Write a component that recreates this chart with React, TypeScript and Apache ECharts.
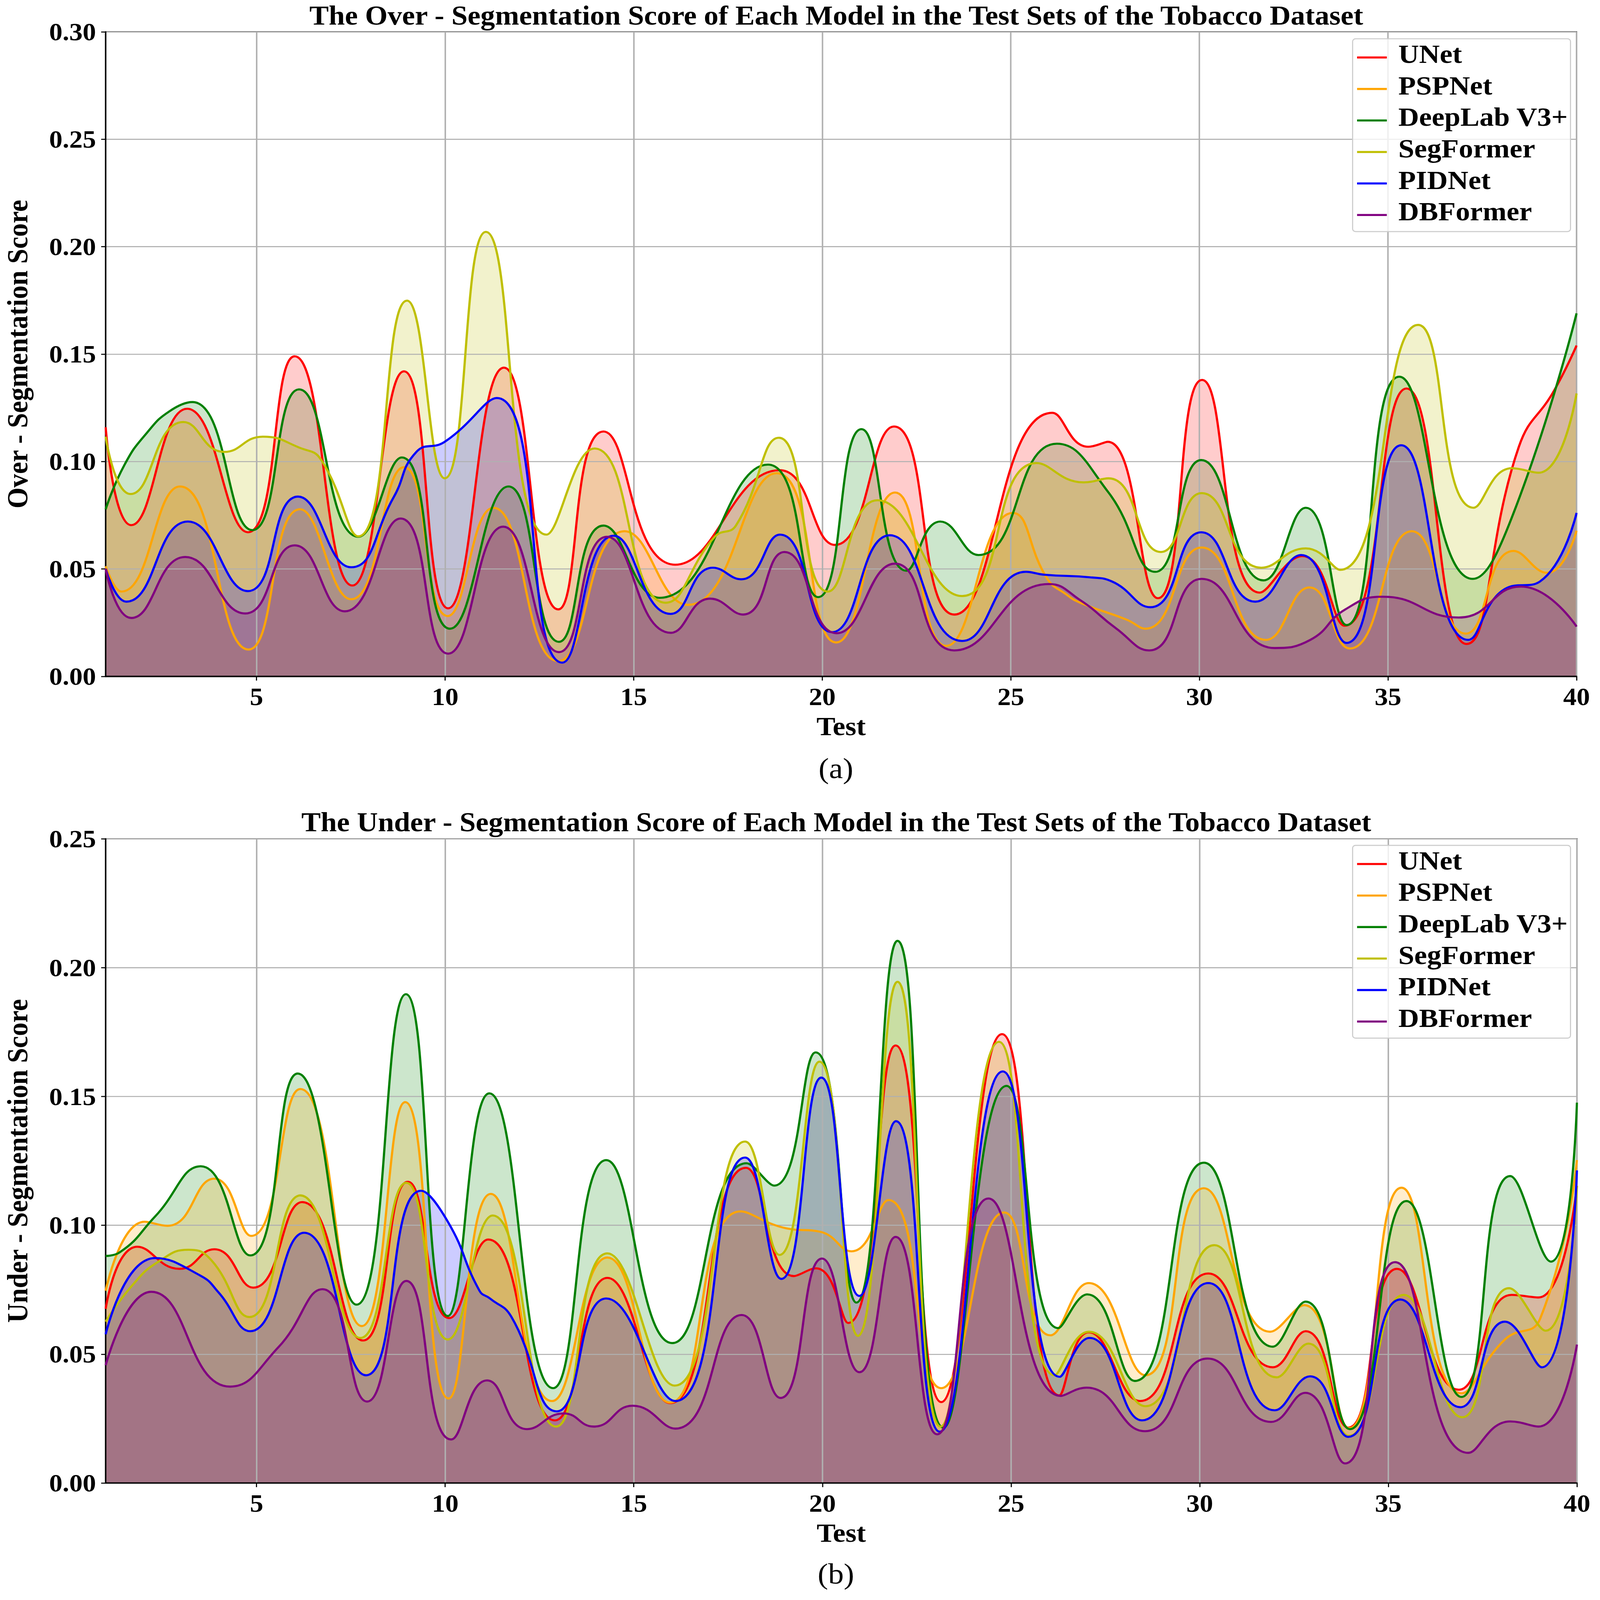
import React, { useEffect, useRef } from "react";
import * as echarts from "echarts";

type P = [number, number];

const modelNames = ["UNet", "PSPNet", "DeepLab V3+", "SegFormer", "PIDNet", "DBFormer"];
const modelColors = ["#ff0000", "#ffa500", "#008000", "#bfbf00", "#0000ff", "#800080"];
const fillOrder = [2, 0, 1, 3, 4, 5];
const xTickValues = [5, 10, 15, 20, 25, 30, 35, 40];

const titleOver = "The Over - Segmentation Score of Each Model in the Test Sets of the Tobacco Dataset";
const titleUnder = "The Under - Segmentation Score of Each Model in the Test Sets of the Tobacco Dataset";

const overUNet: P[] = [[1,.116],[1.68,.0704],[3.16,.1246],[4.77,.0671],[6.01,.149],[7.54,.0423],[8.91,.142],[10.08,.0317],[11.56,.1437],[13.0,.0312],[14.2,.114],[16.1,.052],[18.87,.096],[20.34,.0612],[21.9,.1163],[23.5,.0288],[26.1,.1227],[27.05,.1069],[27.57,.1092],[28.9,.0364],[30.07,.138],[31.6,.039],[32.73,.056],[33.85,.0236],[35.49,.134],[37.08,.0151],[38.47,.1069],[39.4,.1329],[40,.154]];
const overPSPNet: P[] = [[1,.0513],[1.42,.0395],[2.97,.0884],[4.79,.0125],[6.15,.0778],[7.51,.0359],[8.91,.0974],[10.07,.0281],[11.28,.0785],[13.0,.0071],[14.76,.0676],[16.44,.0333],[18.79,.0946],[20.37,.0158],[21.93,.0856],[23.29,.0142],[25.05,.0761],[25.97,.0454],[26.46,.0383],[26.84,.0343],[28.06,.0265],[28.57,.0222],[30.06,.06],[31.76,.017],[32.92,.0414],[33.99,.013],[35.63,.0676],[37.06,.0199],[38.33,.0584],[39.22,.0482],[40,.0678]];
const overDeepLab: P[] = [[1,.0778],[1.5,.0985],[2.1,.1135],[2.7,.1235],[3.3,.1277],[4.89,.0681],[6.13,.1336],[7.7,.065],[8.85,.1019],[10.13,.0222],[11.68,.0884],[13.02,.0161],[14.2,.0702],[15.69,.0366],[18.56,.0986],[19.89,.0369],[21.04,.1151],[22.23,.0492],[23.13,.0721],[24.14,.0565],[26.22,.1083],[27.59,.0856],[28.83,.0487],[30.05,.1007],[31.7,.0447],[32.82,.0785],[33.9,.0239],[35.3,.1395],[37.25,.0454],[38.28,.0738],[40,.169]];
const overSegFormer: P[] = [[1,.1116],[1.66,.0849],[3.06,.1184],[4.14,.1045],[5.17,.1116],[6.15,.1064],[6.71,.1009],[7.7,.0652],[8.99,.1749],[9.99,.0922],[11.08,.2069],[12.69,.066],[13.96,.1061],[15.85,.0343],[17.15,.065],[17.71,.0702],[18.85,.1111],[20.15,.0395],[21.46,.082],[23.71,.0374],[25.68,.0993],[26.93,.0903],[27.59,.0922],[28.98,.0579],[30.06,.0853],[31.64,.0506],[32.82,.0596],[33.73,.0496],[35.8,.1636],[37.27,.0785],[38.28,.0969],[38.99,.0948],[40,.1317]];
const overPIDNet: P[] = [[1,.0501],[1.55,.0348],[3.18,.0721],[4.77,.0397],[6.1,.0837],[7.51,.0508],[8.63,.0832],[9.24,.1045],[9.99,.1092],[11.37,.1296],[13.11,.0064],[14.47,.0655],[15.98,.0291],[17.1,.0506],[17.85,.0452],[18.88,.066],[20.26,.0206],[21.79,.0657],[23.71,.0165],[25.4,.0487],[25.9,.0473],[27.12,.0461],[27.68,.0442],[28.7,.0322],[30.05,.0671],[31.48,.0348],[32.7,.0565],[33.9,.0156],[35.35,.1076],[37.13,.017],[38.1,.0407],[39.03,.0442],[40,.0761]];
const overDBFormer: P[] = [[1,.0501],[1.68,.0272],[3.11,.0556],[4.7,.0293],[6.01,.061],[7.34,.0303],[8.82,.0735],[10.08,.0106],[11.54,.0697],[13.02,.0113],[14.29,.065],[15.99,.0203],[17.03,.0362],[17.9,.0288],[19.0,.0579],[20.38,.0201],[21.93,.0525],[23.5,.0121],[26.01,.043],[26.84,.0355],[27.78,.0225],[28.67,.0121],[30.06,.0454],[32.0,.0132],[32.94,.017],[33.87,.0312],[34.86,.0371],[36.88,.0274],[38.52,.0418],[40,.0232]];

const underUNet: P[] = [[1,.0676],[1.84,.0917],[2.96,.0831],[3.88,.0907],[4.91,.0758],[6.21,.109],[7.82,.0553],[9.01,.1169],[10.11,.064],[11.14,.0945],[12.91,.0243],[14.3,.0796],[15.96,.031],[17.97,.1223],[19.24,.0803],[19.83,.0833],[20.68,.0621],[21.94,.1698],[23.15,.0314],[24.76,.1742],[26.28,.034],[27.06,.0585],[28.42,.0318],[30.23,.0813],[31.94,.0449],[32.81,.0589],[33.94,.0215],[35.23,.0831],[36.87,.0362],[38.27,.073],[38.98,.072],[40,.1153]];
const underPSPNet: P[] = [[1,.0746],[2.03,.1014],[2.64,.0998],[3.88,.1181],[4.86,.0959],[6.16,.1529],[7.79,.0609],[8.94,.1478],[10.09,.0328],[11.21,.1122],[12.83,.0318],[14.3,.0875],[15.96,.0312],[17.83,.1054],[19.05,.0988],[19.94,.0975],[20.77,.0899],[21.75,.1098],[23.15,.0368],[24.82,.105],[26.04,.0573],[27.06,.0776],[28.56,.0418],[30.11,.1144],[31.87,.0587],[32.77,.069],[33.96,.0213],[35.35,.1146],[36.94,.0348],[38.09,.0557],[39.02,.0636],[40,.1253]];
const underDeepLab: P[] = [[1,.0881],[1.37,.0895],[2.31,.1034],[3.52,.1229],[4.83,.0883],[6.09,.1589],[7.65,.0692],[8.96,.1897],[10.07,.0648],[11.17,.1512],[12.86,.0368],[14.27,.1253],[16.02,.0543],[17.99,.1241],[18.72,.1154],[19.82,.1671],[20.9,.07],[21.99,.2104],[23.21,.0215],[24.88,.1541],[26.25,.0601],[27.02,.0732],[28.28,.0396],[30.11,.1243],[31.94,.0529],[32.81,.0704],[33.98,.0209],[35.48,.1094],[36.94,.0334],[38.23,.1191],[39.31,.0859],[40,.1476]];
const underSegFormer: P[] = [[1,.0626],[1.7,.0766],[2.4,.0859],[3.2,.0905],[3.8,.0865],[4.81,.0644],[6.16,.1116],[7.75,.0563],[8.97,.1165],[10.07,.0557],[11.26,.1038],[12.94,.0219],[14.3,.0891],[16.08,.0378],[17.95,.1325],[18.86,.0885],[19.92,.1635],[20.94,.0571],[21.99,.1945],[23.13,.0219],[24.68,.1712],[26.16,.0418],[27.06,.0587],[28.56,.0298],[30.39,.0923],[32.04,.041],[32.88,.0541],[33.96,.0183],[35.41,.073],[36.96,.0255],[38.2,.0756],[39.17,.0591],[40,.1153]];
const underPIDNet: P[] = [[1,.0577],[2.31,.0873],[3.52,.0804],[3.99,.074],[4.83,.0589],[6.26,.0971],[7.9,.0418],[9.36,.1134],[10.07,.1014],[10.91,.0746],[11.19,.0716],[11.75,.0646],[12.96,.0278],[14.27,.0716],[16.1,.0318],[17.95,.1263],[18.91,.0792],[19.97,.1573],[20.98,.0726],[21.95,.1404],[23.11,.0199],[24.78,.1597],[26.29,.0412],[27.08,.0563],[28.47,.0243],[30.23,.0776],[31.99,.0282],[32.93,.0414],[33.94,.0179],[35.32,.0712],[36.91,.0294],[38.09,.0626],[39.07,.0449],[40,.1213]];
const underDBFormer: P[] = [[1,.0457],[2.21,.0742],[4.3,.0374],[5.58,.0527],[6.75,.0752],[7.93,.0316],[8.97,.0784],[10.16,.0169],[11.11,.0398],[12.17,.0209],[13.14,.027],[13.94,.0219],[14.97,.03],[16.1,.0211],[17.86,.0652],[18.89,.033],[19.99,.0871],[20.98,.043],[21.94,.0955],[23.04,.0189],[24.4,.1104],[26.32,.0338],[27.0,.037],[28.55,.0201],[30.21,.0483],[31.89,.0237],[32.8,.035],[33.85,.0076],[35.18,.0857],[37.12,.0117],[38.23,.0239],[38.98,.0219],[40,.0537]];

const overSeries = [overUNet, overPSPNet, overDeepLab, overSegFormer, overPIDNet, overDBFormer];
const underSeries = [underUNet, underPSPNet, underDeepLab, underSegFormer, underPIDNet, underDBFormer];

const SERIF = "Liberation Serif";
const PAGE_W = 4301;
const PAGE_H = 4622;

function buildOption() {
  const makeFills = (groups: P[][], axisIndex: number) =>
    fillOrder.map((i) => ({
      type: "line",
      name: modelNames[i],
      xAxisIndex: axisIndex,
      yAxisIndex: axisIndex,
      data: groups[i],
      smooth: 0.5,
      symbol: "none",
      showSymbol: false,
      z: 1,
      silent: true,
      lineStyle: { width: 0, color: modelColors[i] },
      itemStyle: { color: modelColors[i] },
      areaStyle: { color: modelColors[i], opacity: 0.2, origin: "start" },
    }));

  const makeLines = (groups: P[][], axisIndex: number) =>
    groups.map((data, i) => ({
      type: "line",
      name: modelNames[i],
      xAxisIndex: axisIndex,
      yAxisIndex: axisIndex,
      data,
      smooth: 0.5,
      symbol: "none",
      showSymbol: false,
      z: 3,
      lineStyle: { color: modelColors[i], width: 6 },
      itemStyle: { color: modelColors[i] },
    }));

  const makeX = (gridIndex: number) => ({
    type: "value",
    gridIndex,
    z: 2,
    min: 1,
    max: 40,
    name: "Test",
    nameLocation: "middle",
    nameGap: 106,
    nameTextStyle: { fontFamily: SERIF, fontWeight: "bold", fontSize: 76, color: "#000" },
    axisLine: { show: true, onZero: false, lineStyle: { color: "#000", width: 4 } },
    axisTick: { show: true, length: 12, customValues: xTickValues, lineStyle: { color: "#000", width: 3 } },
    axisLabel: {
      customValues: xTickValues,
      fontFamily: SERIF,
      fontWeight: "bold",
      fontSize: 72,
      color: "#000",
      margin: 22,
    },
    splitLine: { show: true, lineStyle: { color: "#b0b0b0", width: 4 } },
  });

  const makeY = (gridIndex: number, max: number, name: string) => ({
    type: "value",
    gridIndex,
    z: 2,
    min: 0,
    max,
    interval: 0.05,
    name,
    nameLocation: "middle",
    nameGap: 198,
    nameTextStyle: { fontFamily: SERIF, fontWeight: "bold", fontSize: 78, color: "#000" },
    axisLine: { show: true, lineStyle: { color: "#000", width: 4 } },
    axisTick: { show: true, length: 12, lineStyle: { color: "#000", width: 3 } },
    axisLabel: {
      formatter: (v: number) => v.toFixed(2),
      fontFamily: SERIF,
      fontWeight: "bold",
      fontSize: 72,
      color: "#000",
      margin: 26,
    },
    splitLine: { show: true, lineStyle: { color: "#b0b0b0", width: 3 } },
  });

  const makeLegend = (top: number) => ({
    show: true,
    data: modelNames,
    orient: "vertical",
    left: 3636,
    top,
    padding: [5, 6, 20, 12],
    icon: "path://M0 0L0 0M0 21H80V27H0Z",
    itemWidth: 80,
    itemHeight: 27,
    itemGap: 14,
    selectedMode: false,
    backgroundColor: "rgba(255,255,255,0.8)",
    borderColor: "#cccccc",
    borderWidth: 3,
    borderRadius: 8,
    itemStyle: { borderWidth: 0 },
    textStyle: { fontFamily: SERIF, fontWeight: "bold", fontSize: 77, color: "#000", padding: [0, 0, 0, 26], lineHeight: 75 },
  });

  const makeTitle = (text: string, top: number) => ({
    text,
    left: 2248,
    top,
    textAlign: "center",
    padding: 0,
    textStyle: { fontFamily: SERIF, fontWeight: "bold", fontSize: 78, color: "#000" },
  });

  return {
    animation: false,
    backgroundColor: "#ffffff",
    title: [makeTitle(titleOver, 6), makeTitle(titleUnder, 2336)],
    legend: [makeLegend(112), makeLegend(2442)],
    grid: [
      { left: 258, width: 3980, top: 92, height: 1862, show: true, borderColor: "#000", borderWidth: 3, backgroundColor: "transparent" },
      { left: 259, width: 3980, top: 2423, height: 1861, show: true, borderColor: "#000", borderWidth: 3, backgroundColor: "transparent" },
    ],
    xAxis: [makeX(0), makeX(1)],
    yAxis: [makeY(0, 0.3, "Over - Segmentation Score"), makeY(1, 0.25, "Under - Segmentation Score")],
    series: [
      ...makeFills(overSeries, 0),
      ...makeFills(underSeries, 1),
      ...makeLines(overSeries, 0),
      ...makeLines(underSeries, 1),
    ],
    graphic: [
      { type: "text", x: 2247, y: 2219, style: { text: "(a)", fontFamily: SERIF, fontSize: 84, fill: "#000", textAlign: "center", textVerticalAlign: "middle" } },
      { type: "text", x: 2247, y: 4546, style: { text: "(b)", fontFamily: SERIF, fontSize: 84, fill: "#000", textAlign: "center", textVerticalAlign: "middle" } },
    ],
  };
}

export default function App() {
  const ref = useRef<HTMLDivElement | null>(null);
  // The browser window may be smaller than the page asked for: keep the whole figure in view.
  const fitX = Math.min(1, window.innerWidth / PAGE_W);
  const fitY = Math.min(1, window.innerHeight / PAGE_H);
  useEffect(() => {
    document.body.style.margin = "0";
    if (!ref.current) return;
    const chart = echarts.init(ref.current, undefined, { renderer: "svg" });
    chart.setOption(buildOption() as any);
    return () => chart.dispose();
  }, []);
  return (
    <div style={{ width: PAGE_W * fitX, height: PAGE_H * fitY, overflow: "hidden" }}>
      <div
        ref={ref}
        style={{ width: PAGE_W, height: PAGE_H, transform: `scale(${fitX}, ${fitY})`, transformOrigin: "0 0" }}
      />
    </div>
  );
}
